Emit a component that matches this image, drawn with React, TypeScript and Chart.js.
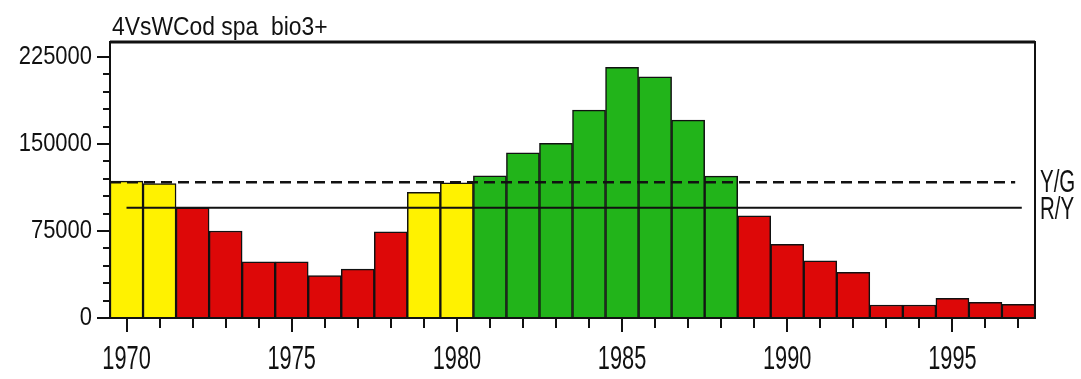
import React, { useEffect, useRef } from "react";
import { Chart, registerables } from "chart.js";

Chart.register(...registerables);

const TITLE = "4VsWCod spa  bio3+";
const years = [
  1970, 1971, 1972, 1973, 1974, 1975, 1976, 1977, 1978, 1979,
  1980, 1981, 1982, 1983, 1984, 1985, 1986, 1987, 1988, 1989,
  1990, 1991, 1992, 1993, 1994, 1995, 1996, 1997,
];
const biomass = [
  118000, 116000, 95000, 75000, 48500, 48500, 36500, 42200, 74200, 108300,
  116600, 122700, 142500, 150600, 179300, 216100, 208000, 170700, 122400, 88200,
  63500, 49400, 39400, 11200, 11200, 17000, 13500, 11800,
];
const zones = [
  "Y", "Y", "R", "R", "R", "R", "R", "R", "R", "Y",
  "Y", "G", "G", "G", "G", "G", "G", "G", "G", "R",
  "R", "R", "R", "R", "R", "R", "R", "R",
];
const zoneColors: Record<string, string> = { R: "#DD0808", Y: "#FFF200", G: "#22B41A" };
const xTickLabels = [1970, 1975, 1980, 1985, 1990, 1995];
const yTickLabels = [0, 75000, 150000, 225000];
const yellowGreenLimit = 117000;
const redYellowLimit = 95000;
const ygSpan = [1969.5, 1996.9];
const rySpan = [1970, 1997.1];
const limitLabels = ["Y/G", "R/Y"];

const FONT = "'Liberation Sans', Arial, sans-serif";

function condenseLabels(scale: any, sx: number) {
  if (!scale || scale.__condensed === sx) return;
  const orig = scale.drawLabels;
  scale.drawLabels = function (area: any) {
    const ctx = this.ctx;
    const ft = ctx.fillText;
    ctx.fillText = function (text: string, x: number, y: number, mw?: number) {
      this.save();
      this.translate(x, y);
      this.scale(sx, 1);
      if (mw === undefined) ft.call(this, text, 0, 0);
      else ft.call(this, text, 0, 0, mw);
      this.restore();
    };
    try {
      orig.call(this, area);
    } finally {
      delete ctx.fillText;
    }
  };
  scale.__condensed = sx;
}

function condensedText(ctx: CanvasRenderingContext2D, text: string, x: number, y: number, sx: number) {
  ctx.save();
  ctx.translate(x, y);
  ctx.scale(sx, 1);
  ctx.fillText(text, 0, 0);
  ctx.restore();
}

export default function App() {
  const ref = useRef<HTMLCanvasElement>(null);
  useEffect(() => {
    document.body.style.margin = "0";
    const canvas = ref.current!;
    const decor = {
      id: "decor",
      beforeDraw(chart: any) {
        condenseLabels(chart.scales.x, 0.66);
        condenseLabels(chart.scales.y, 0.845);
      },
      afterDraw(chart: any) {
        const { ctx, chartArea: a } = chart;
        const xs = chart.scales.x;
        const ys = chart.scales.y;
        ctx.save();
        ctx.strokeStyle = "#111";
        // frame
        ctx.lineWidth = 2;
        ctx.strokeRect(a.left, a.top, a.right - a.left, a.bottom - a.top);
        ctx.lineWidth = 3;
        ctx.beginPath();
        ctx.moveTo(a.left, a.top);
        ctx.lineTo(a.right, a.top);
        ctx.stroke();
        // y ticks
        ctx.lineWidth = 2;
        for (let v = 0; v <= 225000; v += 15000) {
          const y = Math.round(ys.getPixelForValue(v));
          const len = v % 75000 === 0 ? 13 : 7;
          ctx.beginPath();
          ctx.moveTo(a.left - len, y);
          ctx.lineTo(a.left, y);
          ctx.stroke();
        }
        // x ticks
        for (const yr of years) {
          const x = Math.round(xs.getPixelForValue(yr));
          const len = yr % 5 === 0 ? 14 : 10;
          ctx.beginPath();
          ctx.moveTo(x, a.bottom);
          ctx.lineTo(x, a.bottom + len);
          ctx.stroke();
        }
        // title
        ctx.fillStyle = "#111";
        ctx.font = `26px ${FONT}`;
        ctx.textBaseline = "alphabetic";
        ctx.textAlign = "left";
        condensedText(ctx, TITLE, a.left + 2, a.top - 7, 0.88);
        // limit labels
        ctx.font = `32px ${FONT}`;
        const lims = [yellowGreenLimit, redYellowLimit];
        const offs = [9.5, 11];
        lims.forEach((v, i) => {
          const y = ys.getPixelForValue(v) + offs[i];
          condensedText(ctx, limitLabels[i], a.right + 5, y, 0.64);
        });
        ctx.restore();
      },
    };
    const chart = new Chart(canvas, {
      type: "bar",
      data: {
        datasets: [
          {
            type: "line",
            data: ygSpan.map((x) => ({ x, y: yellowGreenLimit })),
            borderColor: "#111",
            borderWidth: 2.5,
            borderDash: [11, 6],
            pointRadius: 0,
            order: 0,
          } as any,
          {
            type: "line",
            data: rySpan.map((x) => ({ x, y: redYellowLimit })),
            borderColor: "#111",
            borderWidth: 2,
            pointRadius: 0,
            order: 0,
          } as any,
          {
            type: "bar",
            data: years.map((x, i) => ({ x, y: biomass[i] })),
            backgroundColor: zones.map((z) => zoneColors[z]),
            borderColor: "#111",
            borderWidth: 1.5,
            barPercentage: 1,
            categoryPercentage: 1,
            order: 1,
          } as any,
        ],
      },
      options: {
        animation: false,
        responsive: false,
        devicePixelRatio: 1,
        layout: { padding: { top: 42, right: 46, left: 0, bottom: 0 } },
        plugins: {
          legend: { display: false },
          tooltip: { enabled: false },
          title: { display: false },
        },
        scales: {
          x: {
            type: "linear",
            min: 1969.5,
            max: 1997.5,
            offset: false,
            grid: { display: false, drawTicks: false, offset: false },
            border: { display: false },
            ticks: {
              font: { family: FONT, size: 33 },
              color: "#111",
              padding: 22,
              maxRotation: 0,
              autoSkip: false,
              callback: (v: any) => String(v),
            },
            afterBuildTicks: (s: any) => {
              s.ticks = xTickLabels.map((v) => ({ value: v }));
            },
            afterFit: (s: any) => {
              s.height = 61;
            },
          },
          y: {
            min: 0,
            max: 238000,
            grid: { display: false, drawTicks: false },
            border: { display: false },
            ticks: {
              font: { family: FONT, size: 26 },
              color: "#111",
              padding: 18,
              callback: (v: any) => String(v),
            },
            afterBuildTicks: (s: any) => {
              s.ticks = yTickLabels.map((v) => ({ value: v }));
            },
            afterFit: (s: any) => {
              s.width = 110;
            },
          },
        },
      } as any,
      plugins: [decor],
    });
    return () => chart.destroy();
  }, []);
  return (
    <div style={{ position: "absolute", left: 0, top: 0, width: 1081, height: 379 }}>
      <canvas ref={ref} width={1081} height={379} style={{ width: 1081, height: 379, display: "block" }} />
    </div>
  );
}
